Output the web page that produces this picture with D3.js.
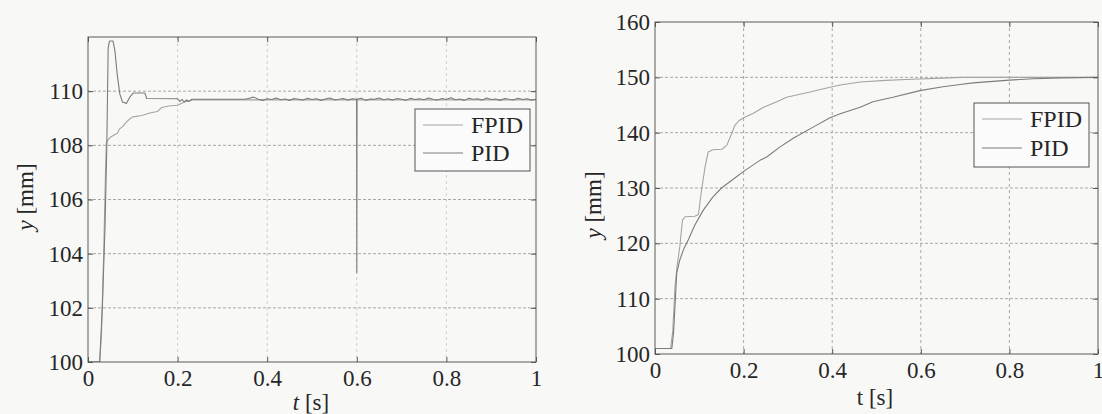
<!DOCTYPE html>
<html>
<head>
<meta charset="utf-8">
<script src="https://cdn.jsdelivr.net/npm/d3@7/dist/d3.min.js"></script>
<style>
  html, body { margin: 0; padding: 0; background: #f8f8f7; }
  svg { display: block; }
  svg text { font-family: "Liberation Serif", "Times New Roman", serif !important; fill: #262626; }
</style>
</head>
<body>
<svg id="chart" width="1102" height="414"></svg>
<script>
// ---- step response, left panel (t in s, y in mm) ----
const seriesNames = ["FPID", "PID"];

const leftFpid = [
  [0, 100], [0.026, 100], [0.030, 101], [0.035, 104], [0.039, 107], [0.041, 108.1],
  [0.045, 108.2], [0.050, 108.3], [0.060, 108.4], [0.066, 108.45], [0.070, 108.6],
  [0.078, 108.7], [0.085, 108.85], [0.095, 109.0], [0.100, 109.05], [0.120, 109.1],
  [0.140, 109.2], [0.155, 109.25], [0.165, 109.4], [0.180, 109.45], [0.200, 109.48],
  [0.215, 109.6], [0.235, 109.68], [1, 109.68]
];

const leftPidStart = [
  [0, 100], [0.026, 100], [0.032, 102], [0.038, 105], [0.042, 108], [0.045, 111.6],
  [0.048, 111.85], [0.056, 111.85], [0.060, 111.5], [0.065, 110.65], [0.071, 109.9],
  [0.077, 109.6], [0.086, 109.55], [0.094, 109.8], [0.101, 109.93], [0.127, 109.93],
  [0.131, 109.73], [0.200, 109.72], [0.205, 109.62], [0.210, 109.7], [0.215, 109.6],
  [0.220, 109.68], [0.225, 109.62], [0.232, 109.7], [0.350, 109.7]
];

// sampled every 10 ms from t = 0.36 s to t = 1.00 s
const leftPidTailStart = 0.36;
const leftPidTailStep = 0.01;
const leftPidTail = [
  109.74, 109.78, 109.70, 109.66, 109.72, 109.69, 109.75, 109.68, 109.71, 109.66,
  109.73, 109.70, 109.67, 109.74, 109.69, 109.72, 109.66, 109.71, 109.75, 109.68,
  109.70, 109.73, 109.67, 109.72, 109.69, 109.74, 109.66, 109.71, 109.70, 109.75,
  109.68, 109.72, 109.67, 109.73, 109.70, 109.66, 109.74, 109.69, 109.72, 109.68,
  109.75, 109.70, 109.67, 109.73, 109.69, 109.76, 109.68, 109.71, 109.66, 109.74,
  109.70, 109.72, 109.67, 109.75, 109.69, 109.71, 109.66, 109.73, 109.70, 109.68,
  109.74, 109.69, 109.72, 109.67, 109.70
];
// single sensor glitch near t = 0.6 s
const leftPidGlitch = [[0.5995, 109.7], [0.6, 103.3], [0.6005, 109.7]];

const leftXTicks = [0, 0.2, 0.4, 0.6, 0.8, 1];
const leftXLabels = ["0", "0.2", "0.4", "0.6", "0.8", "1"];
const leftYTicks = [100, 102, 104, 106, 108, 110];
const leftYLabels = ["100", "102", "104", "106", "108", "110"];

// ---- step response, right panel ----
const rightFpid = [
  [0, 101], [0.035, 101], [0.040, 104], [0.045, 112], [0.050, 116], [0.056, 119.4],
  [0.062, 124.2], [0.068, 124.8], [0.090, 124.9], [0.098, 125.2], [0.105, 129.6],
  [0.113, 133.8], [0.120, 136.5], [0.131, 136.9], [0.151, 137.0], [0.162, 137.7],
  [0.173, 139.8], [0.180, 141.3], [0.190, 142.2], [0.200, 142.7], [0.222, 143.5],
  [0.245, 144.6], [0.275, 145.6], [0.297, 146.4], [0.330, 147.0], [0.357, 147.5],
  [0.395, 148.2], [0.418, 148.6], [0.463, 149.15], [0.520, 149.45], [0.580, 149.65],
  [0.650, 149.85], [0.690, 150], [1, 150]
];

const rightPid = [
  [0, 101], [0.038, 101], [0.042, 104], [0.046, 110], [0.049, 114.6], [0.056, 117.0],
  [0.065, 119.0], [0.075, 120.6], [0.090, 123.3], [0.109, 126.0], [0.130, 128.3],
  [0.150, 130.0], [0.175, 131.5], [0.200, 133.0], [0.237, 135.0], [0.252, 135.6],
  [0.280, 137.3], [0.312, 139.0], [0.357, 141.0], [0.395, 142.7], [0.418, 143.4],
  [0.463, 144.6], [0.492, 145.6], [0.537, 146.4], [0.598, 147.6], [0.650, 148.3],
  [0.689, 148.7], [0.718, 149.0], [0.800, 149.5], [0.853, 149.75], [0.920, 149.9],
  [1, 150]
];

const rightXTicks = [0, 0.2, 0.4, 0.6, 0.8, 1];
const rightXLabels = ["0", "0.2", "0.4", "0.6", "0.8", "1"];
const rightYTicks = [100, 110, 120, 130, 140, 150, 160];
const rightYLabels = ["100", "110", "120", "130", "140", "150", "160"];

// ---- assemble the noisy PID trace of the left panel ----
const leftPid = leftPidStart
  .concat(leftPidTail.map((v, i) => [leftPidTailStart + i * leftPidTailStep, v]))
  .filter(d => d[0] < 0.599 || d[0] > 0.601)
  .concat(leftPidGlitch)
  .sort((a, b) => a[0] - b[0]);

const SERIF = "'Liberation Serif', 'Times New Roman', serif";
const svg = d3.select("#chart");
const colors = { FPID: "#a4a4a4", PID: "#7c7c7c" };

function panel(cfg) {
  const { x0, x1, y0, y1 } = cfg.box;
  const x = d3.scaleLinear().domain([0, 1]).range([x0, x1]);
  const y = d3.scaleLinear().domain(cfg.yDomain).range([y1, y0]);
  const g = svg.append("g").style("font-family", SERIF);

  // grid
  g.append("g").selectAll("line.gx")
    .data(cfg.xTicks.filter(t => t > 0 && t < 1))
    .join("line")
    .attr("x1", d => x(d)).attr("x2", d => x(d))
    .attr("y1", y0).attr("y2", y1)
    .attr("stroke", cfg.gridX).attr("stroke-width", 1)
    .attr("stroke-dasharray", "3,3");
  g.append("g").selectAll("line.gy")
    .data(cfg.yTicks.filter(v => v > cfg.yDomain[0] && v < cfg.yDomain[1]))
    .join("line")
    .attr("x1", x0).attr("x2", x1)
    .attr("y1", d => y(d)).attr("y2", d => y(d))
    .attr("stroke", "#a8a8a8").attr("stroke-width", 1)
    .attr("stroke-dasharray", "3,2");

  // data lines
  const clipId = "clip" + cfg.id;
  svg.append("clipPath").attr("id", clipId)
    .append("rect").attr("x", x0).attr("y", y0).attr("width", x1 - x0).attr("height", y1 - y0);
  const line = d3.line().x(d => x(d[0])).y(d => y(d[1]));
  const lines = g.append("g").attr("clip-path", `url(#${clipId})`);
  cfg.series.forEach(s => {
    lines.append("path")
      .attr("d", line(s.data))
      .attr("fill", "none")
      .attr("stroke", colors[s.name])
      .attr("stroke-width", 1.1)
      .attr("stroke-linejoin", "round");
  });

  // axes with inward ticks
  const tick = 5;
  const fmtX = d => cfg.xLabels[cfg.xTicks.indexOf(d)];
  const fmtY = d => cfg.yLabels[cfg.yTicks.indexOf(d)];
  const ax = [
    g.append("g").attr("transform", `translate(0,${y1})`)
      .call(d3.axisBottom(x).tickValues(cfg.xTicks).tickFormat(fmtX).tickSize(-tick).tickPadding(8)),
    g.append("g").attr("transform", `translate(0,${y0})`)
      .call(d3.axisTop(x).tickValues(cfg.xTicks).tickFormat("").tickSize(-tick)),
    g.append("g").attr("transform", `translate(${x0},0)`)
      .call(d3.axisLeft(y).tickValues(cfg.yTicks).tickFormat(fmtY).tickSize(-tick).tickPadding(5)),
    g.append("g").attr("transform", `translate(${x1},0)`)
      .call(d3.axisRight(y).tickValues(cfg.yTicks).tickFormat("").tickSize(-tick))
  ];
  ax.forEach(a => {
    a.attr("font-family", null).attr("font-size", null);
    a.select(".domain").remove();
    a.selectAll(".tick line").attr("stroke", "#555");
    a.selectAll(".tick text")
      .style("font-family", SERIF)
      .style("font-size", "23px")
      .attr("fill", "#262626");
  });

  g.append("rect")
    .attr("x", x0).attr("y", y0).attr("width", x1 - x0).attr("height", y1 - y0)
    .attr("fill", "none").attr("stroke", "#5a5a5a").attr("stroke-width", 1);

  // axis titles
  const xt = g.append("text")
    .attr("x", cfg.xTitle.x).attr("y", cfg.xTitle.y)
    .attr("text-anchor", "middle").style("font-size", "23px");
  xt.append("tspan").attr("font-style", cfg.italicT ? "italic" : "normal").text("t");
  xt.append("tspan").text(" [s]");

  const yt = g.append("text")
    .attr("transform", `translate(${cfg.yTitle.x},${cfg.yTitle.y}) rotate(-90)`)
    .attr("text-anchor", "middle").attr("dy", "0.35em").style("font-size", "23px");
  yt.append("tspan").attr("font-style", "italic").text("y");
  yt.append("tspan").text(" [mm]");

  // legend
  const L = cfg.legend;
  g.append("rect")
    .attr("x", L.x).attr("y", L.y).attr("width", L.w).attr("height", L.h)
    .attr("fill", "#fbfbfb").attr("stroke", "#555").attr("stroke-width", 1);
  seriesNames.forEach((name, i) => {
    const ly = L.y + L.first + i * L.gap;
    g.append("line")
      .attr("x1", L.x + 8).attr("x2", L.x + 48)
      .attr("y1", ly).attr("y2", ly)
      .attr("stroke", colors[name]).attr("stroke-width", 1.1);
    g.append("text")
      .attr("x", L.x + 56).attr("y", ly).attr("dy", "0.35em")
      .style("font-size", "24px").text(name);
  });
}

panel({
  id: "L",
  box: { x0: 88, x1: 536, y0: 37, y1: 362 },
  yDomain: [100, 112],
  xTicks: leftXTicks, xLabels: leftXLabels,
  yTicks: leftYTicks, yLabels: leftYLabels,
  gridX: "#cfcfcf",
  series: [{ name: "FPID", data: leftFpid }, { name: "PID", data: leftPid }],
  xTitle: { x: 311, y: 410 }, italicT: true,
  yTitle: { x: 25, y: 197 },
  legend: { x: 415, y: 109, w: 115, h: 62, first: 16, gap: 28 }
});

panel({
  id: "R",
  box: { x0: 655, x1: 1098, y0: 22, y1: 354 },
  yDomain: [100, 160],
  xTicks: rightXTicks, xLabels: rightXLabels,
  yTicks: rightYTicks, yLabels: rightYLabels,
  gridX: "#a8a8a8",
  series: [{ name: "FPID", data: rightFpid }, { name: "PID", data: rightPid }],
  xTitle: { x: 875, y: 405 }, italicT: false,
  yTitle: { x: 593, y: 205 },
  legend: { x: 974, y: 103, w: 115, h: 64, first: 16, gap: 29 }
});
</script>
</body>
</html>
